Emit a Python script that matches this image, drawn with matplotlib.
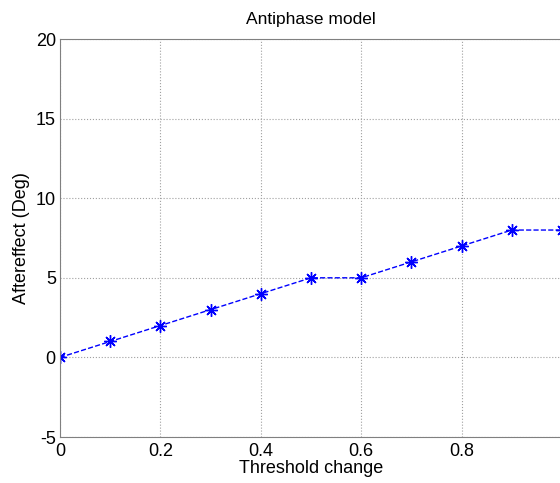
import matplotlib
matplotlib.use("Agg")
import matplotlib.pyplot as plt

# data
threshold = [0, 0.1, 0.2, 0.3, 0.4, 0.5, 0.6, 0.7, 0.8, 0.9, 1.0]
aftereffect = [0, 1, 2, 3, 4, 5, 5, 6, 7, 8, 8]
xticks = [0, 0.2, 0.4, 0.6, 0.8]
yticks = [-5, 0, 5, 10, 15, 20]

plt.rcParams["font.family"] = ["Liberation Sans", "DejaVu Sans"]
plt.rcParams["axes.unicode_minus"] = False

fig = plt.figure(figsize=(5.6, 4.83), dpi=100)
ax = fig.add_axes([60 / 560, 1 - 437 / 483, 502 / 560, 398 / 483])

ax.plot(threshold, aftereffect, linestyle="--", color="#0000ff",
        marker=(8, 2, 0), markersize=9, markeredgewidth=1, linewidth=1)

ax.set_xlim(0, 1.0)
ax.set_ylim(-5, 20)
ax.set_xticks(xticks)
ax.set_xticklabels(["0", "0.2", "0.4", "0.6", "0.8"])
ax.set_yticks(yticks)
ax.tick_params(labelsize=13, direction="in", length=0)
ax.tick_params(axis="x", pad=4)
ax.tick_params(axis="y", pad=3)
ax.grid(True, linestyle=":", color="#a0a0a0", linewidth=0.8)

for s in ax.spines.values():
    s.set_color("#808080")

ax.set_title("Antiphase model", fontsize=12.5, pad=11)
ax.set_xlabel("Threshold change", fontsize=13, labelpad=0)
ax.set_ylabel("Aftereffect (Deg)", fontsize=13, labelpad=4)

fig.savefig("out.png", dpi=100)
